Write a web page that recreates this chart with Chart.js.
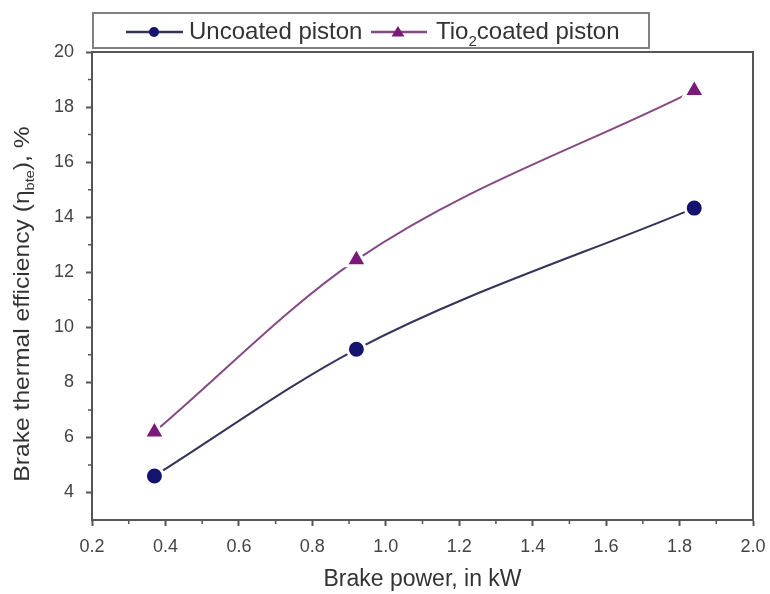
<!DOCTYPE html>
<html>
<head>
<meta charset="utf-8">
<script src="https://cdn.jsdelivr.net/npm/chart.js@4"></script>
<style>
  html, body { margin: 0; padding: 0; background: #fff; }
  #wrap { width: 770px; height: 594px; }
</style>
</head>
<body>
<div id="wrap"><canvas id="grafico"></canvas></div>
<script>
// dati
const potenza = [0.37, 0.92, 1.84];
const nonRivestito = [4.6, 9.2, 14.33];
const rivestitoTio2 = [6.2, 12.45, 18.6];

const etichettaNonRivestito = "Uncoated piston";
const etichettaRivestito = ["Tio", "2", "coated piston"];

const ticksX = [0.2, 0.4, 0.6, 0.8, 1.0, 1.2, 1.4, 1.6, 1.8, 2.0];
const ticksXMinori = [0.3, 0.5, 0.7, 0.9, 1.1, 1.3, 1.5, 1.7, 1.9];
const ticksY = [4, 6, 8, 10, 12, 14, 16, 18, 20];
const ticksYMinori = [5, 7, 9, 11, 13, 15, 17, 19];

const FONT = "'Liberation Sans', Arial, sans-serif";
const COLORE_ASSE = "#555";
const BLU = "#14146e", BLU_LINEA = "#34345a";
const VIOLA = "#7b1a7b", VIOLA_LINEA = "#844a84";

// cornice superiore/destra, tacche minori, titolo asse y, legenda
const pluginCornice = {
  id: "cornice",
  afterDraw(chart) {
    const ctx = chart.ctx;
    const a = chart.chartArea;
    const sx = chart.scales.x, sy = chart.scales.y;
    ctx.save();
    ctx.strokeStyle = COLORE_ASSE;
    ctx.lineWidth = 2;
    ctx.beginPath();
    ctx.moveTo(a.left, a.top);
    ctx.lineTo(a.right, a.top);
    ctx.lineTo(a.right, a.bottom);
    ctx.stroke();

    ctx.lineWidth = 1.5;
    ctx.beginPath();
    ticksXMinori.forEach(function (v) {
      const x = sx.getPixelForValue(v);
      ctx.moveTo(x, a.bottom);
      ctx.lineTo(x, a.bottom + 4);
    });
    ticksYMinori.forEach(function (v) {
      const y = sy.getPixelForValue(v);
      ctx.moveTo(a.left, y);
      ctx.lineTo(a.left - 4, y);
    });
    ctx.stroke();

    // titolo asse y con pedice
    ctx.fillStyle = "#333";
    ctx.textBaseline = "middle";
    const parti = [
      { t: "Brake thermal efficiency (\u03b7", f: "22px " + FONT, dy: 0 },
      { t: "bte", f: "13px " + FONT, dy: 7 },
      { t: "), %", f: "22px " + FONT, dy: 0 }
    ];
    let totale = 0;
    parti.forEach(function (p) { ctx.font = p.f; p.w = ctx.measureText(p.t).width; totale += p.w; });
    ctx.translate(23, 304);
    ctx.rotate(-Math.PI / 2);
    ctx.scale(1.12, 1);
    let x = -totale / 2;
    parti.forEach(function (p) {
      ctx.font = p.f;
      ctx.textAlign = "left";
      ctx.fillText(p.t, x, p.dy);
      x += p.w;
    });
    ctx.restore();

    // legenda
    ctx.save();
    ctx.strokeStyle = "#808080";
    ctx.lineWidth = 2;
    ctx.strokeRect(93, 13, 556, 35);
    const yc = 32;
    function voce(x0, x1, xm, coloreLinea, coloreSegno, stile) {
      ctx.strokeStyle = coloreLinea;
      ctx.lineWidth = 2.5;
      ctx.beginPath();
      ctx.moveTo(x0, yc);
      ctx.lineTo(x1, yc);
      ctx.stroke();
      ctx.fillStyle = coloreSegno;
      ctx.beginPath();
      if (stile === "circle") {
        ctx.arc(xm, yc, 5, 0, Math.PI * 2);
      } else {
        ctx.moveTo(xm, yc - 6);
        ctx.lineTo(xm + 6.5, yc + 4.5);
        ctx.lineTo(xm - 6.5, yc + 4.5);
        ctx.closePath();
      }
      ctx.fill();
    }
    voce(126, 183, 154, BLU_LINEA, BLU, "circle");
    voce(371, 427, 398, VIOLA_LINEA, VIOLA, "triangle");
    ctx.fillStyle = "#333";
    ctx.textBaseline = "middle";
    ctx.textAlign = "left";
    ctx.font = "24px " + FONT;
    ctx.fillText(etichettaNonRivestito, 189, yc);
    let xt = 436;
    ctx.fillText(etichettaRivestito[0], xt, yc);
    xt += ctx.measureText(etichettaRivestito[0]).width;
    ctx.font = "15px " + FONT;
    ctx.fillText(etichettaRivestito[1], xt, yc + 10);
    xt += ctx.measureText(etichettaRivestito[1]).width;
    ctx.font = "24px " + FONT;
    ctx.fillText(etichettaRivestito[2], xt, yc);
    ctx.restore();
  }
};

new Chart(document.getElementById("grafico"), {
  type: "line",
  data: {
    datasets: [
      {
        label: etichettaNonRivestito,
        data: potenza.map(function (p, i) { return { x: p, y: nonRivestito[i] }; }),
        borderColor: BLU_LINEA,
        borderWidth: 2,
        pointStyle: "circle",
        pointRadius: 9,
        pointBackgroundColor: BLU,
        pointBorderColor: "#fff",
        pointBorderWidth: 3,
        cubicInterpolationMode: "monotone"
      },
      {
        label: etichettaRivestito.join(""),
        data: potenza.map(function (p, i) { return { x: p, y: rivestitoTio2[i] }; }),
        borderColor: VIOLA_LINEA,
        borderWidth: 2,
        pointStyle: "triangle",
        pointRadius: 12,
        pointBackgroundColor: VIOLA,
        pointBorderColor: "#fff",
        pointBorderWidth: 3,
        cubicInterpolationMode: "monotone"
      }
    ]
  },
  options: {
    responsive: true,
    maintainAspectRatio: false,
    animation: false,
    layout: { padding: { top: 52, right: 17, left: 0, bottom: 0 } },
    plugins: {
      legend: { display: false },
      tooltip: { enabled: false }
    },
    scales: {
      x: {
        type: "linear",
        min: 0.2,
        max: 2.0,
        afterFit: function (s) { s.height = 74; s.paddingLeft = 0; s.paddingRight = 0; },
        afterBuildTicks: function (s) { s.ticks = ticksX.map(function (v) { return { value: v }; }); },
        ticks: {
          color: "#444",
          font: { size: 18, family: FONT },
          padding: 10,
          maxRotation: 0,
          callback: function (v) { return Number(v).toFixed(1); }
        },
        grid: { drawOnChartArea: false, drawTicks: true, tickLength: 6, tickColor: COLORE_ASSE, tickWidth: 2 },
        border: { color: COLORE_ASSE, width: 2 },
        title: {
          display: true,
          text: "Brake power, in kW",
          color: "#333",
          font: { size: 23, family: FONT },
          padding: { top: 0, bottom: 1 }
        }
      },
      y: {
        type: "linear",
        min: 3,
        max: 20,
        afterFit: function (s) { s.width = 92; s.paddingTop = 0; s.paddingBottom = 0; },
        afterBuildTicks: function (s) { s.ticks = ticksY.map(function (v) { return { value: v }; }); },
        ticks: {
          color: "#444",
          font: { size: 18, family: FONT },
          padding: 12
        },
        grid: { drawOnChartArea: false, drawTicks: true, tickLength: 6, tickColor: COLORE_ASSE, tickWidth: 2 },
        border: { color: COLORE_ASSE, width: 2 }
      }
    }
  },
  plugins: [pluginCornice]
});
</script>
</body>
</html>
